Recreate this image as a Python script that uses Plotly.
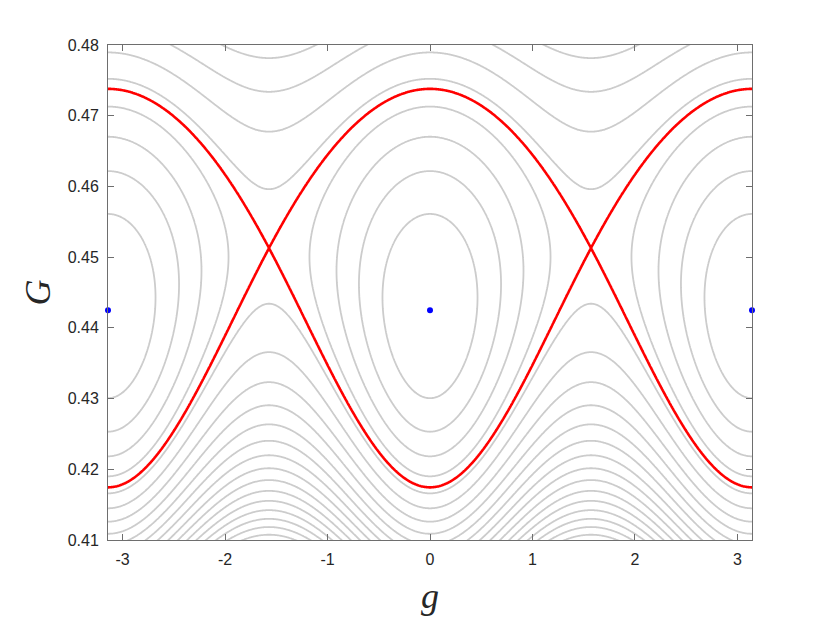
import numpy as np
import plotly.graph_objects as go

# ---- data ----
# G where each contour level crosses g = 0 (and g = ±pi)
p_G = [0.41085, 0.41261, 0.41452, 0.4166, 0.4190, 0.4218, 0.42531, 0.43004, 0.4425,
       0.45606, 0.46218, 0.46703, 0.47127, 0.47529, 0.47891]
p_level = [8, 7, 6, 5, 4, 3, 2, 1, 0, 1, 2, 3, 4, 5, 6]
p_center = 0.4425

# G where each contour level crosses g = ±pi/2
q_G = [0.41083, 0.41188, 0.41298, 0.41418, 0.41548, 0.41688, 0.41838, 0.42008, 0.42198,
       0.42408, 0.42648, 0.42918, 0.43238, 0.43663, 0.44313, 0.45125, 0.45973,
       0.46774, 0.4734, 0.47812]
q_level = [19, 18, 17, 16, 15, 14, 13, 12, 11, 10, 9, 8, 7, 6, 5, 4.63, 5, 6, 7, 8]
q_saddle = 0.45125

separatrix_level = 4.63

center_g = [-np.pi, 0.0, np.pi]
center_G = [0.4425, 0.4425, 0.4425]

x_tick_vals = [-3, -2, -1, 0, 1, 2, 3]
x_tick_text = ["-3", "-2", "-1", "0", "1", "2", "3"]
y_tick_vals = [0.41, 0.42, 0.43, 0.44, 0.45, 0.46, 0.47, 0.48]
y_tick_text = ["0.41", "0.42", "0.43", "0.44", "0.45", "0.46", "0.47", "0.48"]


def smooth_profile(G_pts, lev, G0, base, Gq, deg=4):
    """Fit signed sqrt(level-base) vs G with a low-order polynomial, return level on Gq."""
    G_pts = np.asarray(G_pts, float)
    lev = np.asarray(lev, float)
    s = np.sign(G_pts - G0) * np.sqrt(np.clip(lev - base, 0, None))
    c = np.polyfit(G_pts - G0, s, deg)
    return base + np.polyval(c, Gq - G0) ** 2


gg = np.linspace(-np.pi, np.pi, 721)
GG = np.linspace(0.409, 0.481, 720)
P = smooth_profile(p_G, p_level, p_center, 0.0, GG)
Q = smooth_profile(q_G, q_level, q_saddle, separatrix_level, GG)
Z = P[:, None] * np.cos(gg)[None, :] ** 2 + Q[:, None] * np.sin(gg)[None, :] ** 2

fig = go.Figure()
fig.add_trace(go.Contour(
    x=gg, y=GG, z=Z,
    contours=dict(start=1, end=30, size=1, coloring="none"),
    line=dict(color="#cccccc", width=1.8),
    showscale=False, hoverinfo="skip",
))
fig.add_trace(go.Contour(
    x=gg, y=GG, z=Z,
    contours=dict(start=separatrix_level, end=separatrix_level, size=1, coloring="none"),
    line=dict(color="#ff0000", width=2.6),
    showscale=False, hoverinfo="skip",
))
fig.add_trace(go.Scatter(
    x=center_g, y=center_G, mode="markers",
    marker=dict(color="#0000ff", size=6),
    cliponaxis=False, showlegend=False,
))

axis_common = dict(
    showline=True, linecolor="#6e6e6e", linewidth=1, mirror="ticks",
    ticks="inside", ticklen=6, tickcolor="#6e6e6e", showgrid=False, zeroline=False,
    ticklabelstandoff=5,
    tickfont=dict(family="Liberation Sans, Arial, sans-serif", size=16, color="#262626"),
)
fig.update_layout(
    width=830, height=623,
    margin=dict(l=100, r=86, t=37, b=91),
    paper_bgcolor="white", plot_bgcolor="white",
    showlegend=False,
    xaxis=dict(range=[-np.pi, np.pi], tickvals=x_tick_vals, ticktext=x_tick_text,
               title=dict(text="<i>g</i>", standoff=15,
                          font=dict(family="Liberation Serif, serif", size=36, color="#262626")),
               **axis_common),
    yaxis=dict(range=[0.41, 0.48], tickvals=y_tick_vals, ticktext=y_tick_text,
               title=dict(text="<i>G</i>", standoff=6,
                          font=dict(family="Liberation Serif, serif", size=36, color="#262626")),
               **axis_common),
)
fig.write_html("out.html")
